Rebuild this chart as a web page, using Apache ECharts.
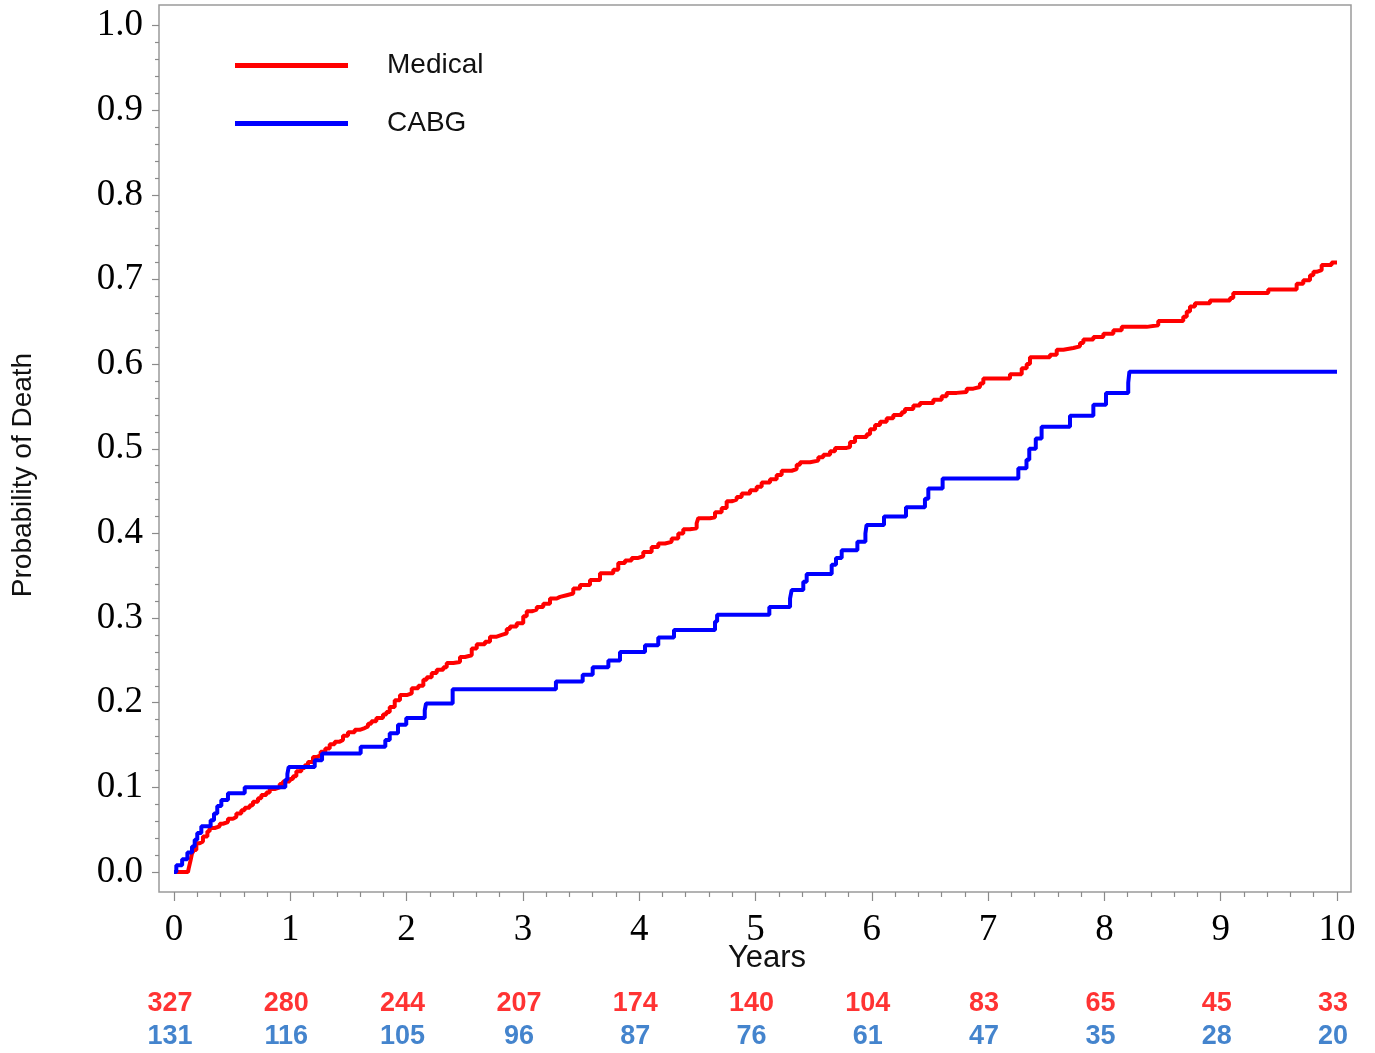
<!DOCTYPE html>
<html>
<head>
<meta charset="utf-8">
<title>Probability of Death: Medical vs CABG</title>
<script src="https://cdn.jsdelivr.net/npm/echarts@6/dist/echarts.min.js"></script>
<style>
  html, body { margin: 0; padding: 0; background: #fff; }
  #chart { width: 1375px; height: 1053px; }
</style>
</head>
<body>
<div id="chart"></div>
<script>
// Kaplan-Meier cumulative probability of death, [years, probability]
const medicalCurve = [
  [0.000, 0.000], [0.120, 0.000], [0.126, 0.004], [0.143, 0.014], [0.155, 0.022],
  [0.172, 0.026], [0.192, 0.034], [0.221, 0.036], [0.249, 0.042], [0.287, 0.048],
  [0.307, 0.052], [0.350, 0.054], [0.393, 0.057], [0.421, 0.059], [0.464, 0.063],
  [0.507, 0.065], [0.536, 0.069], [0.579, 0.073], [0.608, 0.076], [0.651, 0.079],
  [0.679, 0.083], [0.722, 0.087], [0.751, 0.091], [0.794, 0.094], [0.823, 0.098],
  [0.866, 0.100], [0.909, 0.104], [0.937, 0.107], [0.995, 0.110], [1.023, 0.113],
  [1.052, 0.119], [1.095, 0.123], [1.124, 0.126], [1.152, 0.130], [1.195, 0.136],
  [1.232, 0.138], [1.261, 0.142], [1.301, 0.146], [1.339, 0.151], [1.382, 0.154],
  [1.425, 0.156], [1.453, 0.161], [1.496, 0.165], [1.554, 0.168], [1.597, 0.170],
  [1.640, 0.172], [1.668, 0.175], [1.697, 0.178], [1.740, 0.182], [1.797, 0.186],
  [1.826, 0.189], [1.855, 0.195], [1.898, 0.203], [1.943, 0.209], [2.001, 0.211],
  [2.044, 0.217], [2.101, 0.220], [2.144, 0.227], [2.173, 0.230], [2.216, 0.235],
  [2.259, 0.239], [2.316, 0.242], [2.345, 0.247], [2.402, 0.248], [2.459, 0.254],
  [2.502, 0.256], [2.560, 0.264], [2.603, 0.269], [2.674, 0.272], [2.717, 0.278],
  [2.775, 0.280], [2.818, 0.282], [2.861, 0.287], [2.889, 0.290], [2.947, 0.294],
  [3.003, 0.302], [3.033, 0.308], [3.076, 0.310], [3.119, 0.313], [3.175, 0.317],
  [3.233, 0.323], [3.291, 0.325], [3.319, 0.327], [3.376, 0.329], [3.433, 0.335],
  [3.491, 0.339], [3.577, 0.345], [3.663, 0.353], [3.777, 0.357], [3.820, 0.365],
  [3.878, 0.368], [3.935, 0.371], [3.992, 0.373], [4.035, 0.378], [4.107, 0.384],
  [4.164, 0.388], [4.222, 0.390], [4.279, 0.394], [4.336, 0.400], [4.379, 0.405],
  [4.437, 0.406], [4.494, 0.412], [4.508, 0.418], [4.609, 0.419], [4.652, 0.425],
  [4.709, 0.430], [4.752, 0.438], [4.795, 0.440], [4.838, 0.443], [4.881, 0.447],
  [4.953, 0.451], [5.010, 0.455], [5.053, 0.460], [5.125, 0.464], [5.182, 0.469],
  [5.225, 0.474], [5.311, 0.476], [5.354, 0.481], [5.383, 0.484], [5.469, 0.486],
  [5.540, 0.490], [5.583, 0.493], [5.641, 0.497], [5.684, 0.501], [5.784, 0.502],
  [5.813, 0.508], [5.856, 0.514], [5.956, 0.517], [5.985, 0.523], [6.028, 0.528],
  [6.071, 0.532], [6.128, 0.536], [6.185, 0.540], [6.257, 0.543], [6.285, 0.547],
  [6.357, 0.551], [6.414, 0.554], [6.529, 0.558], [6.601, 0.562], [6.644, 0.566],
  [6.730, 0.567], [6.816, 0.571], [6.873, 0.573], [6.930, 0.577], [6.959, 0.583],
  [7.188, 0.588], [7.289, 0.595], [7.332, 0.600], [7.360, 0.608], [7.532, 0.611],
  [7.590, 0.617], [7.647, 0.619], [7.733, 0.621], [7.790, 0.625], [7.819, 0.629],
  [7.905, 0.632], [7.991, 0.636], [8.077, 0.640], [8.149, 0.644], [8.364, 0.646],
  [8.463, 0.651], [8.678, 0.656], [8.708, 0.662], [8.736, 0.668], [8.779, 0.672],
  [8.908, 0.675], [9.080, 0.678], [9.108, 0.684], [9.409, 0.688], [9.653, 0.695],
  [9.710, 0.699], [9.768, 0.705], [9.797, 0.709], [9.825, 0.711], [9.868, 0.717],
  [9.954, 0.720], [10.00, 0.720]
];

const cabgCurve = [
  [0.000, 0.000], [0.020, 0.008], [0.070, 0.015], [0.115, 0.023], [0.155, 0.030],
  [0.178, 0.038], [0.200, 0.046], [0.235, 0.054], [0.315, 0.061], [0.344, 0.069],
  [0.372, 0.078], [0.407, 0.085], [0.464, 0.093], [0.608, 0.100], [0.957, 0.109],
  [0.975, 0.116], [0.986, 0.124], [1.210, 0.132], [1.273, 0.140], [1.605, 0.148],
  [1.817, 0.156], [1.855, 0.164], [1.926, 0.174], [1.997, 0.182], [2.156, 0.191],
  [2.167, 0.199], [2.396, 0.216], [3.284, 0.225], [3.514, 0.233], [3.600, 0.242],
  [3.735, 0.250], [3.835, 0.260], [4.050, 0.268], [4.164, 0.277], [4.299, 0.286],
  [4.652, 0.296], [4.670, 0.304], [5.119, 0.313], [5.297, 0.323], [5.311, 0.333],
  [5.411, 0.343], [5.440, 0.352], [5.655, 0.363], [5.692, 0.371], [5.741, 0.380],
  [5.876, 0.390], [5.945, 0.400], [5.955, 0.410], [6.105, 0.420], [6.294, 0.431],
  [6.457, 0.441], [6.486, 0.453], [6.609, 0.465], [7.260, 0.477], [7.330, 0.487],
  [7.354, 0.500], [7.410, 0.512], [7.460, 0.526], [7.704, 0.539], [7.905, 0.552],
  [8.014, 0.566], [8.205, 0.578], [8.215, 0.591], [10.00, 0.591]
];

// Number at risk at each whole year
const riskYears   = [0, 1, 2, 3, 4, 5, 6, 7, 8, 9, 10];
const medicalRisk = [327, 280, 244, 207, 174, 140, 104, 83, 65, 45, 33];
const cabgRisk    = [131, 116, 105, 96, 87, 76, 61, 47, 35, 28, 20];

const groupNames = ['Medical', 'CABG'];
const xTitle = 'Years';
const yTitle = 'Probability of Death';

const RED = '#ff0000';
const BLUE = '#0000ff';
const RISK_RED = '#ff0000';
const RISK_BLUE = '#1565c0';
const TICK = '#8a8a8a';
const SERIF = '"Liberation Serif", "Times New Roman", serif';
const SANS = '"Liberation Sans", Arial, sans-serif';

const riskData = [];
riskYears.forEach((t, i) => {
  riskData.push({ value: [t, groupNames[0], medicalRisk[i]], label: { color: RISK_RED } });
  riskData.push({ value: [t, groupNames[1], cabgRisk[i]], label: { color: RISK_BLUE } });
});

const chart = echarts.init(document.getElementById('chart'), null, { renderer: 'canvas' });

const option = {
  animation: false,
  backgroundColor: '#ffffff',
  grid: [
    // plotting area (0..10 years, 0..1)
    { left: 174, right: 38, top: 25, bottom: 181 },
    // surrounding frame
    { left: 159, top: 5, width: 1192, height: 887, show: true,
      borderColor: '#9a9a9a', borderWidth: 1.5, backgroundColor: 'transparent' },
    // number-at-risk rows
    { left: 174, right: 38, top: 987, height: 68 }
  ],
  xAxis: [
    {
      gridIndex: 0, type: 'value', min: 0, max: 10, interval: 1,
      offset: 20,
      axisLine: { show: false, onZero: false },
      axisTick: { show: true, length: 9, lineStyle: { color: TICK, width: 1.2 } },
      minorTick: { show: true, splitNumber: 5, length: 5, lineStyle: { color: TICK, width: 1.2 } },
      splitLine: { show: false },
      axisLabel: { margin: 20, color: '#000', fontFamily: SERIF, fontSize: 37 }
    },
    { gridIndex: 1, type: 'value', min: 0, max: 1, show: false },
    { gridIndex: 2, type: 'value', min: 0, max: 10, show: false }
  ],
  yAxis: [
    {
      gridIndex: 0, type: 'value', min: 0, max: 1, interval: 0.1,
      offset: 15,
      axisLine: { show: false, onZero: false },
      axisTick: { show: true, length: 7, lineStyle: { color: TICK, width: 1.2 } },
      minorTick: { show: true, splitNumber: 5, length: 4, lineStyle: { color: TICK, width: 1.2 } },
      splitLine: { show: false },
      axisLabel: { margin: 16, color: '#000', fontFamily: SERIF, fontSize: 37,
        verticalAlign: 'middle', lineHeight: 37, padding: [14, 0, 0, 0],
        formatter: v => v.toFixed(1) }
    },
    { gridIndex: 1, type: 'value', min: 0, max: 1, show: false },
    { gridIndex: 2, type: 'category', data: groupNames, inverse: true, show: false }
  ],
  legend: {
    orient: 'vertical',
    left: 235,
    top: 50,
    padding: 0,
    itemWidth: 113,
    itemHeight: 5,
    itemGap: 27,
    icon: 'rect',
    selectedMode: false,
    data: groupNames,
    textStyle: { fontFamily: SANS, fontSize: 28, color: '#111', lineHeight: 31, padding: [0, 0, 0, 34] }
  },
  series: [
    {
      name: groupNames[0], type: 'line', step: 'end',
      xAxisIndex: 0, yAxisIndex: 0,
      data: medicalCurve, showSymbol: false, symbol: 'none',
      lineStyle: { color: RED, width: 4 }, itemStyle: { color: RED },
      silent: true
    },
    {
      name: groupNames[1], type: 'line', step: 'end',
      xAxisIndex: 0, yAxisIndex: 0,
      data: cabgCurve, showSymbol: false, symbol: 'none',
      lineStyle: { color: BLUE, width: 4 }, itemStyle: { color: BLUE },
      silent: true
    },
    {
      type: 'scatter', xAxisIndex: 2, yAxisIndex: 2,
      data: riskData, symbolSize: 1, itemStyle: { color: 'transparent' },
      silent: true,
      label: {
        show: true, position: 'inside', offset: [-4, 0],
        formatter: p => String(p.value[2]),
        fontFamily: SANS, fontWeight: 'bold', fontSize: 27
      }
    }
  ],
  graphic: [
    {
      type: 'text', x: 767, y: 958,
      style: { text: xTitle, font: '31px "Liberation Sans", Arial, sans-serif',
        fill: '#111', align: 'center', verticalAlign: 'middle' }
    },
    {
      type: 'text', x: 23, y: 475, rotation: Math.PI / 2,
      style: { text: yTitle, font: '28px "Liberation Sans", Arial, sans-serif',
        fill: '#111', align: 'center', verticalAlign: 'middle' }
    }
  ]
};

chart.setOption(option);
</script>
</body>
</html>
